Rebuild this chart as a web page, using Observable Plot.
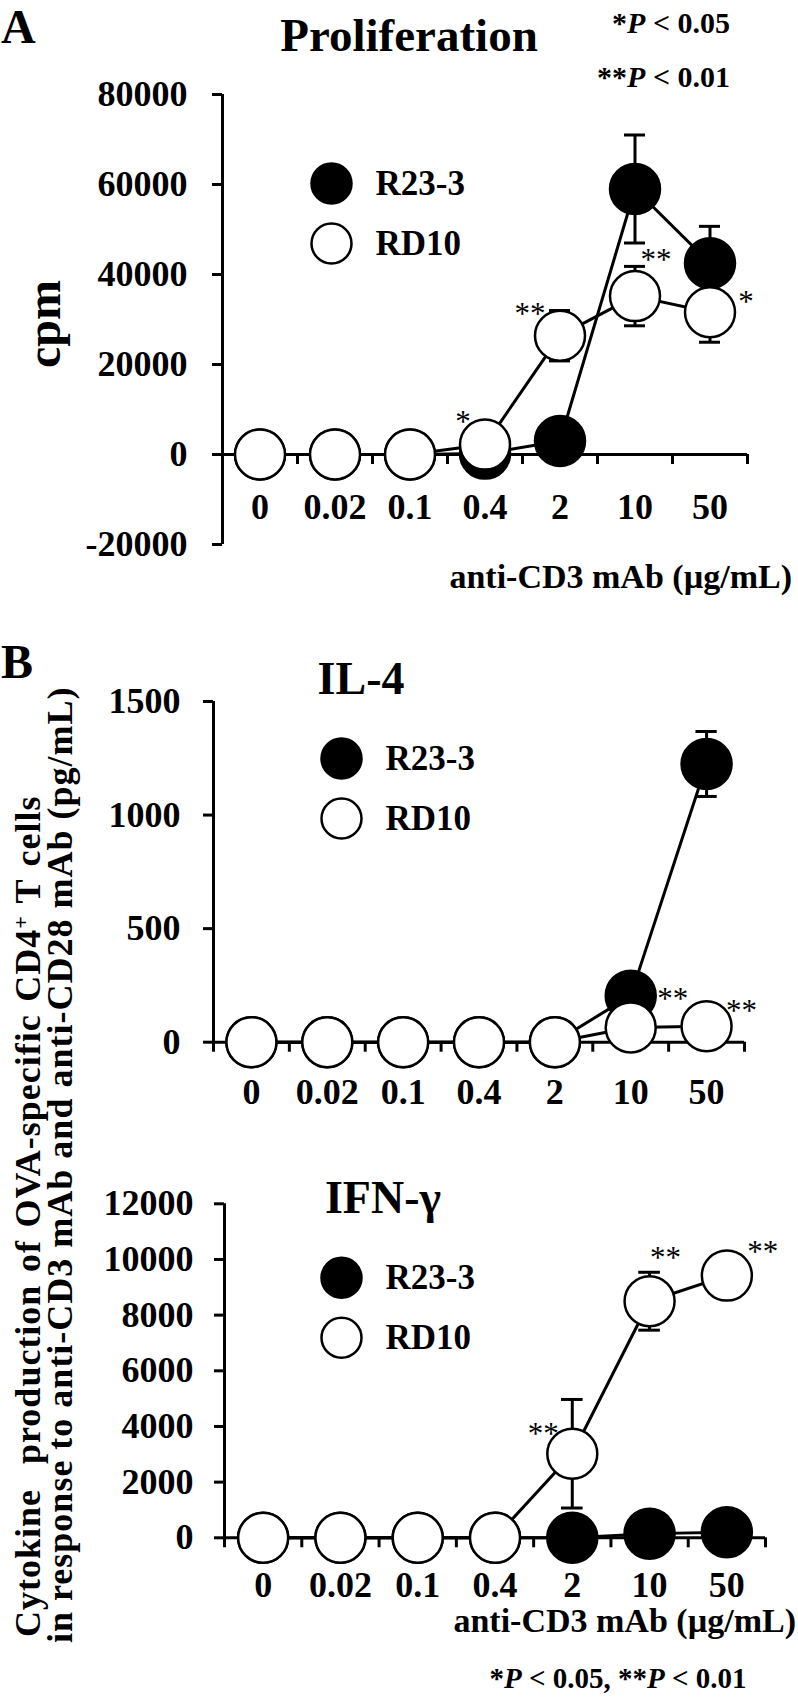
<!DOCTYPE html>
<html>
<head>
<meta charset="utf-8">
<script src="https://cdn.jsdelivr.net/npm/d3@7"></script>
<script src="https://cdn.jsdelivr.net/npm/@observablehq/plot@0.6"></script>
<style>
  html, body { margin: 0; padding: 0; background: #fff; }
  #fig { position: relative; width: 798px; height: 1700px; overflow: hidden; background: #fff; }
  #fig svg.plot { position: absolute; left: 0; }
  #overlay { position: absolute; left: 0; top: 0; pointer-events: none; }
</style>
</head>
<body>
<div id="fig"></div>
<script>
// ---------- data ----------
const doses = ["0", "0.02", "0.1", "0.4", "2", "10", "50"];

// Panel A: proliferation (cpm)
const prolifR23 = [0, 0, 0, 200, 3000, 59000, 42500];
const prolifR23Err = [0, 0, 0, 0, 0, 12000, 8200];
const prolifRD10 = [0, 0, 0, 2200, 26400, 35200, 31600];
const prolifRD10Err = [0, 0, 0, 0, 5600, 6600, 6650];
const prolifSig = ["", "", "", "*", "**", "**", "*"];
const prolifTicks = [-20000, 0, 20000, 40000, 60000, 80000];

// Panel B: IL-4 (pg/mL)
const il4R23 = [0, 0, 0, 0, 0, 205, 1225];
const il4R23Err = [0, 0, 0, 0, 0, 0, 143];
const il4RD10 = [0, 0, 0, 0, 0, 65, 70];
const il4RD10Err = [0, 0, 0, 0, 0, 0, 0];
const il4Sig = ["", "", "", "", "", "**", "**"];
const il4Ticks = [0, 500, 1000, 1500];

// Panel B: IFN-gamma (pg/mL)
const ifnR23 = [0, 0, 0, 0, 0, 150, 200];
const ifnR23Err = [0, 0, 0, 0, 0, 0, 0];
const ifnRD10 = [0, 0, 0, 0, 3020, 8500, 9420];
const ifnRD10Err = [0, 0, 0, 0, 1950, 1040, 0];
const ifnSig = ["", "", "", "", "**", "**", "**"];
const ifnTicks = [0, 2000, 4000, 6000, 8000, 10000, 12000];

const seriesNames = ["R23-3", "RD10"];

// ---------- drawing ----------
const SERIF = "'Liberation Serif', 'Times New Roman', Times, serif";
const fig = document.getElementById("fig");

function panel(o) {
  const n = doses.length;
  const rows = (vals, errs, s) => vals.map((v, i) => ({i, v, e: errs[i], s}));
  const r23 = rows(o.r23, o.r23e, seriesNames[0]);
  const rd = rows(o.rd, o.rde, seriesNames[1]);
  const errRows = [...r23, ...rd].filter(d => d.e > 0);
  const caps = errRows.flatMap(d => [{i: d.i, y: d.v + d.e}, {i: d.i, y: d.v - d.e}]);
  const edges = d3.range(n + 1).map(k => k - 0.5);
  const stars = rd.map((d, k) => ({...d, sig: o.sig[k], off: o.starOff[k]})).filter(d => d.sig);
  const capW = 0.14;
  const legend = seriesNames.map((s, k) => ({s, k}));

  const chart = Plot.plot({
    width: 798,
    height: o.height,
    marginTop: o.mt, marginBottom: o.mb, marginLeft: o.ml, marginRight: o.mr,
    x: {domain: [-0.5, n - 0.5], axis: null},
    y: {domain: o.yDomain},
    style: {fontFamily: SERIF, background: "transparent", color: "black"},
    marks: [
      Plot.axisY({ticks: o.yTicks, tickSize: 10, tickPadding: o.tp, tickFormat: d => String(d),
                  fontSize: 36, fontWeight: "bold", strokeWidth: 3, label: null}),
      Plot.ruleX([-0.5], {strokeWidth: 3}),
      Plot.ruleY([0], {x1: -0.5, x2: n - 0.5, strokeWidth: 3}),
      Plot.ruleX(edges, {x: d => d, y1: () => 0, y2: () => 0, insetBottom: -10, strokeWidth: 3}),
      Plot.text(doses, {x: (d, i) => i, y: () => 0, dy: o.labelDy, text: d => d,
                        fontSize: 36, fontWeight: "bold", lineAnchor: "middle"}),
      Plot.line(r23, {x: "i", y: "v", stroke: "black", strokeWidth: 3}),
      Plot.line(rd, {x: "i", y: "v", stroke: "black", strokeWidth: 3}),
      Plot.ruleX(errRows, {x: "i", y1: d => d.v - d.e, y2: d => d.v + d.e, strokeWidth: 3}),
      Plot.ruleY(caps, {y: "y", x1: d => d.i - capW, x2: d => d.i + capW, strokeWidth: 3}),
      Plot.dot(r23, {x: "i", y: "v", r: 25, fill: "black", stroke: "black", strokeWidth: 2.5}),
      Plot.dot(rd, {x: "i", y: "v", r: 25, fill: "white", stroke: "black", strokeWidth: 2.5}),
      ...stars.map(d => Plot.text([d], {x: "i", y: "v", text: "sig", dx: d.off[0], dy: d.off[1],
                        fontSize: 31, fontWeight: "normal", lineAnchor: "middle"})),
      // legend
      ...legend.map(d => Plot.dot([d], {frameAnchor: "top-left", dx: o.leg[0], dy: o.leg[1] + d.k * 60,
                        r: 20, fill: d.k === 0 ? "black" : "white", stroke: "black", strokeWidth: 2.5})),
      ...legend.map(d => Plot.text([d], {frameAnchor: "top-left", dx: o.leg[0] + 44, dy: o.leg[1] + d.k * 60,
                        text: "s", textAnchor: "start", lineAnchor: "middle", fontSize: 35, fontWeight: "bold"}))
    ]
  });
  chart.classList.add("plot");
  chart.style.top = o.top + "px";
  fig.appendChild(chart);
}

panel({
  top: 0, height: 620, mt: 94, mb: 76, ml: 222, mr: 51, tp: 25, labelDy: 53,
  yDomain: [-20000, 80000], yTicks: prolifTicks,
  r23: prolifR23, r23e: prolifR23Err, rd: prolifRD10, rde: prolifRD10Err, sig: prolifSig,
  starOff: [null, null, null, [-22, -23], [-30, -22], [21, -36], [36, -10]],
  leg: [109, 89]
});

panel({
  top: 620, height: 530, mt: 81, mb: 108.3, ml: 213, mr: 54, tp: 23, labelDy: 50,
  yDomain: [0, 1500], yTicks: il4Ticks,
  r23: il4R23, r23e: il4R23Err, rd: il4RD10, rde: il4RD10Err, sig: il4Sig,
  starOff: [null, null, null, null, null, [42, -28], [35, -15]],
  leg: [128, 57]
});

panel({
  top: 1150, height: 500, mt: 53.3, mb: 112.7, ml: 224, mr: 33, tp: 21, labelDy: 48,
  yDomain: [0, 12000], yTicks: ifnTicks,
  r23: ifnR23, r23e: ifnR23Err, rd: ifnRD10, rde: ifnRD10Err, sig: ifnSig,
  starOff: [null, null, null, null, [-29, -20], [16, -43], [36, -24]],
  leg: [117, 74]
});

// ---------- titles / captions (overlay) ----------
const ov = d3.select(fig).append("svg").attr("id", "overlay")
  .attr("width", 798).attr("height", 1700)
  .style("font-family", SERIF).style("font-weight", "bold");

function label(x, y, size, anchor, rot) {
  const t = ov.append("text").attr("font-size", size).attr("text-anchor", anchor || "start");
  if (rot) t.attr("transform", `translate(${x},${y}) rotate(-90)`);
  else t.attr("x", x).attr("y", y);
  return t;
}
function pval(t, parts) {
  parts.forEach(([s, it]) => t.append("tspan").attr("font-style", it ? "italic" : "normal").text(s));
}

label(1, 43, 48).text("A");
label(409, 51, 47, "middle").text("Proliferation");
pval(label(730, 33, 30, "end"), [["*", 0], ["P", 1], [" < 0.05", 0]]);
pval(label(730, 87, 30, "end"), [["**", 0], ["P", 1], [" < 0.01", 0]]);
label(60, 324, 48, "middle", true).text("cpm");
label(792, 588, 34, "end").text("anti-CD3 mAb (\u00b5g/mL)");

label(1, 678, 48).text("B");
label(361, 694, 46, "middle").text("IL-4");
label(383, 1213, 46, "middle").text("IFN-\u03b3");

const yl1 = label(40, 1637, 36, "start", true).attr("letter-spacing", 1).attr("word-spacing", 2.5);
yl1.append("tspan").text("Cytokine\u00a0 production of OVA-specific CD4");
yl1.append("tspan").attr("dy", -12).attr("font-size", 22).text("+");
yl1.append("tspan").attr("dy", 12).text(" T cells");
label(72, 1643, 36, "start", true).attr("letter-spacing", 1)
  .text("in response to anti-CD3 mAb and anti-CD28 mAb (pg/mL)");

label(796, 1632, 34, "end").text("anti-CD3 mAb (\u00b5g/mL)");
pval(label(618, 1688, 29, "middle"), [["*", 0], ["P", 1], [" < 0.05, **", 0], ["P", 1], [" < 0.01", 0]]);
</script>
</body>
</html>
